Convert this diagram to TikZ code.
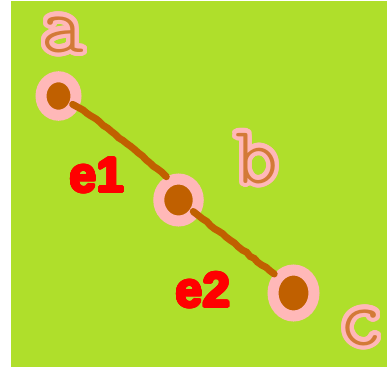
\documentclass[tikz,border=0pt]{standalone}
\usepackage{fontspec}
\setmainfont{Liberation Sans}
\newfontfamily\thinfont{lmmonolt10-regular}[Extension=.otf]
\usepackage[copies]{contour}
\contournumber{24}
\usetikzlibrary{shapes.geometric,decorations.pathmorphing}
\definecolor{bgc}{RGB}{175,223,43}
\definecolor{pinkc}{RGB}{255,184,184}
\definecolor{brownc}{RGB}{192,96,0}
\definecolor{redc}{RGB}{255,0,0}
\newcommand\halo[1]{\contourlength{4.3pt}\contour{pinkc}{#1}}
\newcommand\heavy[1]{\contourlength{1.1pt}\contour{redc}{#1}}
\tikzset{
  vertex/.style={ellipse, draw=pinkc, fill=brownc, line width=11pt, inner sep=0pt},
  vlabel/.style={inner sep=0pt, anchor=base, text=brownc!70!pinkc, font=\thinfont\fontsize{82}{82}\selectfont},
  elabel/.style={inner sep=0pt, anchor=base, text=redc, font=\bfseries\fontsize{49}{49}\selectfont},
  edge/.style={draw=brownc, line width=7pt, line cap=round, shorten <=-7pt,
    decorate, decoration={random steps, segment length=5pt, amplitude=0.6pt}}
}
\pgfmathsetseed{7}
\begin{document}
\begin{tikzpicture}[x=1pt,y=-1pt]
\useasboundingbox (0,0) rectangle (387,367);
\fill[bgc] (11,1) rectangle (387,366.5);
\node[vertex, minimum width=35pt, minimum height=38.5pt] (a) at (58.5,96) {};
\node[vertex, minimum width=39.5pt, minimum height=42pt] (b) at (178.5,200) {};
\node[vertex, minimum width=41pt, minimum height=46pt] (c) at (293.5,293) {};
\draw[edge] (a) .. controls +(30:45) and +(-118:28) .. (b);
\draw[edge] (b) .. controls +(38:40) and +(-135:22) .. (c);
\node[vlabel] (la) at (63,52) {\halo{a}};
\node[vlabel] (lb) at (257,183) {\halo{b}};
\node[vlabel] (lc) at (361,345) {\halo{c}};
\node[elabel] (e1) at (97,192) {\heavy{e1}};
\node[elabel] (e2) at (203,307) {\heavy{e2}};
\end{tikzpicture}
\end{document}
